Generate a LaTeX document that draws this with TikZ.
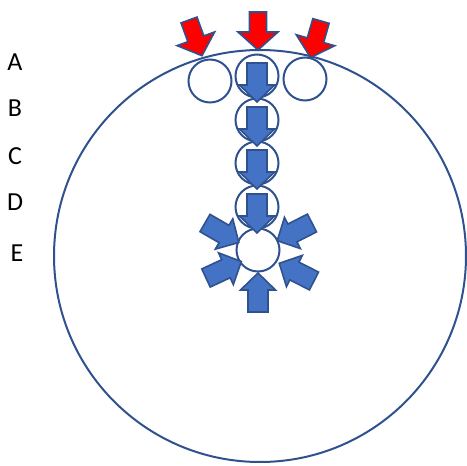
\documentclass[tikz,border=0pt]{standalone}
\usepackage{fontspec}
\setmainfont{Carlito}
\usetikzlibrary{positioning}
\definecolor{ringblue}{HTML}{2F528F}
\definecolor{fillblue}{HTML}{4472C4}

\begin{document}
\begin{tikzpicture}[x=1pt, y=1pt, line join=miter,
      ring/.style={circle,draw=ringblue,line width=2pt,minimum size=43pt,inner sep=0pt},
      lbl/.style={font=\fontsize{26}{28}\selectfont,text=black,inner sep=0pt},
      bluearr/.pic={\draw[draw=ringblue,fill=fillblue,line width=1.6pt] (0,-10) -- (22,-10) -- (22,-17.5) -- (39,0) -- (22,17.5) -- (22,10) -- (0,10) -- cycle;},
      redarr/.pic={\draw[draw=ringblue,fill=red,line width=1.6pt] (0,-8.5) -- (20,-8.5) -- (20,-20) -- (38,0) -- (20,20) -- (20,8.5) -- (0,8.5) -- cycle;}]
  \useasboundingbox (0,0) rectangle (467,-466);
  % the large cell
  \node[circle,draw=ringblue,line width=2pt,minimum size=412pt,inner sep=0pt] at (260,-256) (cell) {};
  % row labels
  \node[lbl] at (15,-62)  (lA) {A};
  \node[lbl] at (15,-108) (lB) {B};
  \node[lbl] at (15,-156) (lC) {C};
  \node[lbl] at (15,-202) (lD) {D};
  \node[lbl] at (17,-253) (lE) {E};
  % small circles
  \node[ring] at (210,-81)  (cA1) {};
  \node[ring] at (257,-76)  (cA2) {};
  \node[ring] at (305,-79)  (cA3) {};
  \node[ring] at (257,-120) (cB) {};
  \node[ring] at (257,-163) (cC) {};
  \node[ring] at (257,-207) (cD) {};
  \node[ring] at (258,-250) (cE) {};
  % red arrows from outside
  \pic[rotate=-70]  (rl) at (189,-20) {redarr};
  \pic[rotate=-90]  (rm) at (258,-12) {redarr};
  \pic[rotate=-106] (rr) at (321,-21) {redarr};
  % blue arrows down the column
  \pic[rotate=-90] (b1) at (257,-63)  {bluearr};
  \pic[rotate=-90] (b2) at (257,-107) {bluearr};
  \pic[rotate=-90] (b3) at (257,-150) {bluearr};
  \pic[rotate=-90] (b4) at (257,-194) {bluearr};
  % blue arrows around E
  \pic[rotate=-30] (eul) at (205,-223) {bluearr};
  \pic[rotate=25]  (ell) at (206,-278) {bluearr};
  \pic[rotate=207] (eur) at (312,-223) {bluearr};
  \pic[rotate=153] (elr) at (314,-281) {bluearr};
  \pic[rotate=90]  (ebo) at (258,-312) {bluearr};
\end{tikzpicture}
\end{document}
